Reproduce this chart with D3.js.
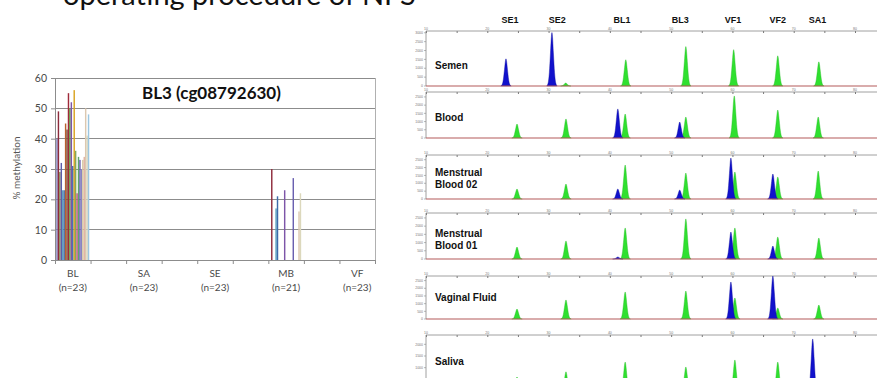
<!DOCTYPE html>
<html>
<head>
<meta charset="utf-8">
<script src="https://cdn.jsdelivr.net/npm/d3@7"></script>
<style>
  body { margin: 0; background: #fff; }
  svg { display: block; }
</style>
</head>
<body>
<svg id="fig" width="877" height="378"></svg>
<script>
// ---------- Methylation bar chart (BL3 marker) ----------
const categories = ["BL", "SA", "SE", "MB", "VF"];
const sampleCounts = [23, 23, 23, 21, 23];
const yTickValues = [0, 10, 20, 30, 40, 50, 60];
const blValues = [40, 49, 29, 32, 23, 23, 45, 43, 55, 50, 52, 31, 56, 36, 22, 34, 33, 30, 33, 34, 50, 41, 48];
const saValues = [];
const seValues = [];
const mbValues = [0, 30, 0, 0, 17, 21, 0, 0, 0, 0, 23, 0, 0, 0, 0, 0, 27, 0, 0, 0, 16, 22, 0];
const vfValues = [];
const seriesColors = [
  "#8080c0", "#8e2b3c", "#86864e", "#5c5caa", "#5aa0c0", "#3f6aa8", "#b8602e", "#7e4e36",
  "#a02a3a", "#5e9a3c", "#7d55a8", "#3e6cb0", "#d9a321", "#86a85a", "#cc4f8c", "#5da66a",
  "#6a60b0", "#8a84c0", "#d6c9a2", "#e2b4a4", "#dcc8b0", "#dcd8bc", "#9cc6e0"
];

// ---------- Capillary electrophoresis panels ----------
const markerNames = ["SE1", "SE2", "BL1", "BL3", "VF1", "VF2", "SA1"];
const markerSizes = [23.7, 31.4, 42.0, 51.5, 60.1, 67.4, 73.9];
const sizeTickValues = [10, 15, 20, 25, 30, 35, 40, 45, 50, 55, 60, 65, 70, 75, 80];
const sizeTickLabels = [10, 20, 30, 40, 50, 60, 70, 80];
const sampleLabels = [["Semen"], ["Blood"], ["Menstrual", "Blood 02"], ["Menstrual", "Blood 01"], ["Vaginal Fluid"], ["Saliva"]];
const rfuMax = [3100, 2800, 2800, 2800, 2800, 2400];
const rfuTicks = [0, 500, 1000, 1500, 2000, 2500, 3000];

// [dye, size, height in RFU]
const semenPeaks = [["blue", 23.05, 1530], ["blue", 30.55, 3010], ["green", 32.8, 170], ["green", 42.6, 1480],
  ["green", 52.4, 2220], ["green", 60.2, 2050], ["green", 67.4, 1700], ["green", 74.1, 1360]];
const bloodPeaks = [["green", 24.85, 850], ["green", 32.84, 1160], ["green", 42.5, 1460], ["blue", 41.3, 1770],
  ["green", 52.4, 1280], ["blue", 51.4, 970], ["green", 60.3, 2560], ["green", 67.4, 1700], ["green", 74.0, 1280]];
const mb02Peaks = [["green", 24.85, 640], ["green", 32.84, 950], ["green", 42.5, 2160], ["blue", 41.3, 640],
  ["green", 52.4, 1650], ["blue", 51.4, 570], ["green", 60.4, 1720], ["blue", 59.75, 2610],
  ["green", 67.4, 1400], ["blue", 66.6, 1590], ["green", 74.0, 1780]];
const mb01Peaks = [["green", 24.85, 730], ["green", 32.84, 1100], ["green", 42.5, 1890], ["blue", 41.3, 120],
  ["green", 52.4, 2440], ["green", 60.4, 1890], ["blue", 59.75, 1640], ["green", 67.4, 1340],
  ["blue", 66.6, 790], ["green", 74.1, 1280]];
const vfPeaks = [["green", 24.85, 650], ["green", 32.84, 1240], ["green", 42.5, 1760], ["green", 52.4, 1820],
  ["green", 60.4, 1370], ["blue", 59.75, 2410], ["green", 67.4, 720], ["blue", 66.6, 2800], ["green", 74.1, 910]];
const salivaPeaks = [["green", 24.85, 600], ["green", 32.84, 820], ["green", 42.5, 1240], ["green", 52.4, 1030],
  ["green", 60.4, 1330], ["green", 67.4, 1240], ["green", 74.1, 400], ["blue", 73.1, 2230]];

const W = 877, H = 378;
const svg = d3.select("#fig");
svg.append("rect").attr("width", W).attr("height", H).attr("fill", "#fff");

// Heading line (continues from the slide above)
svg.append("text")
  .attr("x", 63).attr("y", 5)
  .attr("font-family", "Lato, 'Open Sans', sans-serif")
  .attr("font-size", 29)
  .attr("fill", "#111")
  .text("operating procedure of NFS");

// ================= Bar chart =================
const plot = { left: 55, right: 375, top: 78, bottom: 260 };
const slotCount = categories.length * 2 - 1;
const x = d3.scaleLinear().domain([0, slotCount]).range([plot.left, plot.right]);
const y = d3.scaleLinear().domain([0, 60]).range([plot.bottom, plot.top]);
const slotWidth = x(1) - x(0);
const seriesBand = d3.scaleBand().domain(d3.range(seriesColors.length))
  .range([0, slotWidth]).paddingInner(0).paddingOuter(0.9);
const valueLists = [blValues, saValues, seValues, mbValues, vfValues];
const gridColor = "#8c8c8c";
const axisText = "#4a4a4a";

const bar = svg.append("g");

// horizontal gridlines
bar.append("g").selectAll("line")
  .data(yTickValues.filter(v => v > 0))
  .join("line")
  .attr("x1", plot.left).attr("x2", plot.right)
  .attr("y1", d => y(d)).attr("y2", d => y(d))
  .attr("stroke", gridColor).attr("stroke-width", 1)
  .attr("shape-rendering", "crispEdges");

// right border of plot area
bar.append("line")
  .attr("x1", plot.right).attr("x2", plot.right)
  .attr("y1", plot.top).attr("y2", plot.bottom)
  .attr("stroke", "#b0b0b0").attr("shape-rendering", "crispEdges");

// bars
categories.forEach((cat, ci) => {
  const x0 = x(ci * 2);
  bar.append("g").selectAll("rect")
    .data(valueLists[ci].map((v, j) => ({ v, j })).filter(d => d.v > 0))
    .join("rect")
    .attr("x", d => x0 + seriesBand(d.j))
    .attr("width", seriesBand.bandwidth())
    .attr("y", d => y(d.v))
    .attr("height", d => y(0) - y(d.v))
    .attr("fill", d => seriesColors[d.j]);
});

// y axis
const yAxis = d3.axisLeft(y).tickValues(yTickValues).tickSize(4).tickPadding(4);
const gy = bar.append("g").attr("transform", `translate(${plot.left},0)`).call(yAxis);
gy.select(".domain").attr("stroke", gridColor);
gy.selectAll(".tick line").attr("stroke", gridColor);
gy.selectAll(".tick text").attr("fill", axisText)
  .attr("font-family", "Lato, 'Open Sans', sans-serif").attr("font-size", 10.5);

// x axis: line and slot ticks
const gx = bar.append("g").attr("transform", `translate(0,${plot.bottom})`)
  .call(d3.axisBottom(x).tickValues(d3.range(slotCount + 1)).tickSize(4).tickFormat(""));
gx.select(".domain").attr("stroke", gridColor);
gx.selectAll(".tick line").attr("stroke", gridColor);

// category labels
const catLabels = bar.append("g").selectAll("text")
  .data(categories)
  .join("text")
  .attr("x", (d, i) => x(i * 2 + 0.5))
  .attr("text-anchor", "middle")
  .attr("fill", axisText)
  .attr("font-family", "Lato, 'Open Sans', sans-serif")
  .attr("font-size", 10);
catLabels.append("tspan").attr("x", (d, i) => x(i * 2 + 0.5)).attr("y", 277).text(d => d);
catLabels.append("tspan").attr("x", (d, i) => x(i * 2 + 0.5)).attr("y", 291)
  .text((d, i) => `(n=${sampleCounts[i]})`);

// y axis title
bar.append("text")
  .attr("transform", "translate(20,168) rotate(-90)")
  .attr("text-anchor", "middle")
  .attr("fill", "#555")
  .attr("font-family", "Lato, 'Open Sans', sans-serif")
  .attr("font-size", 10)
  .text("% methylation");

// chart title
bar.append("text")
  .attr("x", 142).attr("y", 99)
  .attr("font-family", "Lato, 'Open Sans', sans-serif")
  .attr("font-weight", "bold")
  .attr("font-size", 17)
  .attr("fill", "#111")
  .text("BL3 (cg08792630)");

// ================= Electropherograms =================
const ep = { left: 426, right: 877 };
const rulerY = [31, 92, 155, 213, 276, 335];
const baseY = [86, 138, 199, 259, 319, 391];
const labelY = [65, 117, 172, 233, 297, 361];
const dyeColors = { blue: "#1111cc", green: "#2fe02f" };
const allPeaks = [semenPeaks, bloodPeaks, mb02Peaks, mb01Peaks, vfPeaks, salivaPeaks];
const xs = d3.scaleLinear().domain([10, 80]).range([426, 855]);
const peakHalfWidth = 0.85;
// normalised peak outline: offset (in half-widths) and relative height
const peakOutline = [[-1, 0], [-0.72, 0.06], [-0.5, 0.25], [-0.28, 0.62], [-0.1, 0.93], [0, 1],
  [0.1, 0.93], [0.28, 0.62], [0.5, 0.25], [0.72, 0.06], [1, 0]];
const tiny = "'Liberation Sans', Arial, sans-serif";

const epg = svg.append("g");

// dye marker names above the first panel
epg.append("g").selectAll("text")
  .data(markerNames)
  .join("text")
  .attr("x", (d, i) => xs(markerSizes[i]))
  .attr("y", 23)
  .attr("text-anchor", "middle")
  .attr("font-family", tiny)
  .attr("font-weight", "bold")
  .attr("font-size", 9)
  .attr("fill", "#111")
  .text(d => d);

sampleLabels.forEach((lines, p) => {
  const g = epg.append("g");
  const ys = d3.scaleLinear().domain([0, rfuMax[p]]).range([baseY[p], rulerY[p]]);

  // size ruler on top
  const ruler = g.append("g").attr("transform", `translate(0,${rulerY[p]})`)
    .call(d3.axisBottom(xs).tickValues(sizeTickValues).tickSize(2).tickFormat(""));
  ruler.select(".domain").remove();
  ruler.selectAll(".tick line").attr("stroke", "#777");
  g.append("line").attr("x1", ep.left).attr("x2", ep.right)
    .attr("y1", rulerY[p]).attr("y2", rulerY[p])
    .attr("stroke", "#888").attr("stroke-width", 0.8);
  g.append("g").selectAll("text")
    .data(sizeTickLabels)
    .join("text")
    .attr("x", d => xs(d)).attr("y", rulerY[p] - 1.5)
    .attr("text-anchor", "middle")
    .attr("font-family", tiny).attr("font-size", 3.5).attr("fill", "#777")
    .text(d => d);

  // RFU axis on the left (only the part inside the figure)
  const ticks = rfuTicks.filter(t => t <= rfuMax[p] && ys(t) < H - 3);
  g.append("line").attr("x1", ep.left).attr("x2", ep.left)
    .attr("y1", rulerY[p]).attr("y2", baseY[p])
    .attr("stroke", "#888").attr("stroke-width", 0.8);
  g.append("g").selectAll("line")
    .data(ticks).join("line")
    .attr("x1", ep.left - 2).attr("x2", ep.left)
    .attr("y1", d => ys(d)).attr("y2", d => ys(d))
    .attr("stroke", "#888").attr("stroke-width", 0.6);
  g.append("g").selectAll("text")
    .data(ticks).join("text")
    .attr("x", ep.left - 3).attr("y", d => ys(d) + 1.2)
    .attr("text-anchor", "end")
    .attr("font-family", tiny).attr("font-size", 3.5).attr("fill", "#777")
    .text(d => d);

  // peaks
  const area = d3.area()
    .x(d => d[0]).y0(baseY[p]).y1(d => d[1])
    .curve(d3.curveMonotoneX);
  g.append("g").selectAll("path")
    .data(allPeaks[p])
    .join("path")
    .attr("d", d => area(peakOutline.map(([o, r]) =>
      [xs(d[1] + o * peakHalfWidth), ys(d[2] * r)])))
    .attr("fill", d => dyeColors[d[0]])
    .attr("stroke", d => d[0] === "blue" ? "#0a0a99" : "#22b822")
    .attr("stroke-width", 0.4);

  // baseline trace
  g.append("line").attr("x1", ep.left).attr("x2", ep.right)
    .attr("y1", baseY[p]).attr("y2", baseY[p])
    .attr("stroke", "#b35a5a").attr("stroke-width", 1.1);

  // sample name
  const t = g.append("text")
    .attr("font-family", tiny).attr("font-weight", "bold")
    .attr("font-size", 10).attr("fill", "#111");
  lines.forEach((line, k) => {
    t.append("tspan").attr("x", 435).attr("y", labelY[p] + 3.5 + k * 12).text(line);
  });
});
</script>
</body>
</html>
